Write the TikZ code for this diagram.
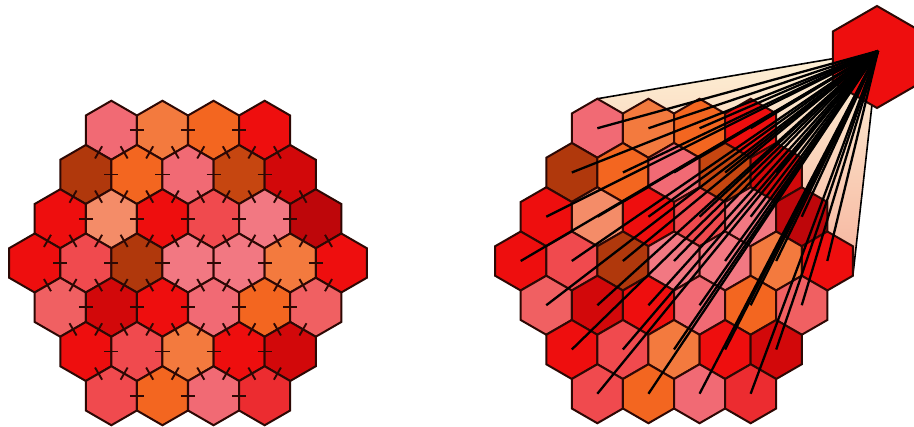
\documentclass[tikz,border=0pt]{standalone}
\usepackage{xcolor}
\usetikzlibrary{calc}

\definecolor{hexline}{RGB}{45,8,4}
\definecolor{hpink}{RGB}{241,106,116}
\definecolor{hpinkl}{RGB}{242,120,130}
\definecolor{horange}{RGB}{243,122,62}
\definecolor{horanged}{RGB}{243,102,32}
\definecolor{hred}{RGB}{238,14,14}
\definecolor{hbrown}{RGB}{176,56,12}
\definecolor{hbrowno}{RGB}{198,70,16}
\definecolor{hdark}{RGB}{210,8,10}
\definecolor{hdarker}{RGB}{190,6,10}
\definecolor{hpeach}{RGB}{244,140,104}
\definecolor{hsalmon}{RGB}{240,74,78}
\definecolor{hsalmonl}{RGB}{240,96,98}
\definecolor{hscarlet}{RGB}{236,44,48}
\definecolor{fancream}{RGB}{253,242,215}
\definecolor{fanpeach}{RGB}{246,178,156}

% colours of the 37 cells, row by row, left to right
\def\cellrows{0/{hpink,horange,horanged,hred},
  1/{hbrown,horanged,hpink,hbrowno,hdark},
  2/{hred,hpeach,hred,hsalmon,hpinkl,hdarker},
  3/{hred,hsalmon,hbrown,hpinkl,hpinkl,horange,hred},
  4/{hsalmonl,hdark,hred,hpink,horanged,hsalmonl},
  5/{hred,hsalmon,horange,hred,hdark},
  6/{hsalmon,horanged,hpink,hscarlet}}

\begin{document}
\begin{tikzpicture}[x=1pt,y=-1pt,
    hexcell/.style={draw=hexline,line width=2pt,line join=miter},
    tickmark/.style={hexline,line width=1.9pt,shorten <=18.5pt,shorten >=18.5pt},
    wire/.style={black,line width=2.3pt}]
  \def\hexr{29.5}
  \def\w{51.1}
  \useasboundingbox (0,0) rectangle (914,427);

  % fan behind the right grid
  \coordinate (grid) at (674,261);
  \coordinate (tip) at (878,51);
  \path (grid) ++(-1.5*\w,-5.5*\hexr) coordinate (fantop);
  \path (grid) ++(3.5*\w,0.5*\hexr) coordinate (fanright);
  \shade[top color=fancream,bottom color=fanpeach]
    (tip) -- (fantop) -- (grid) -- (fanright) -- cycle;
  \draw[black,line width=1.6pt] (fantop) -- (tip) -- (fanright);

  % the two hexagonal grids
  \foreach \g/\cx/\cy in {lt/188/263,rt/674/261}{
    \foreach \i/\row in \cellrows{
      \pgfmathtruncatemacro\qs{max(0,3-\i)}
      \foreach \col [count=\k from 0] in \row{
        \pgfmathtruncatemacro\q{\qs+\k}
        \pgfmathsetmacro\x{\cx+\w*(\q-3+(\i-3)/2)}
        \pgfmathsetmacro\y{\cy+1.5*\hexr*(\i-3)}
        \coordinate (\g-\q-\i) at (\x,\y);
        \draw[hexcell,fill=\col,shift={(\x,\y)}] (90:\hexr) -- (150:\hexr)
          -- (210:\hexr) -- (270:\hexr) -- (330:\hexr) -- (30:\hexr) -- cycle;
      }
    }
  }

  % links between neighbouring cells (left grid)
  \foreach \i/\row in \cellrows{
    \pgfmathtruncatemacro\qs{max(0,3-\i)}
    \foreach \col [count=\k from 0] in \row{
      \pgfmathtruncatemacro\q{\qs+\k}
      \foreach \dq/\di in {1/0,0/1,-1/1}{
        \pgfmathtruncatemacro\nq{\q+\dq}
        \pgfmathtruncatemacro\ni{\i+\di}
        \pgfmathtruncatemacro\ok{(\nq>=0)*(\nq<=6)*(\ni<=6)*(\nq+\ni>=3)*(\nq+\ni<=9)}
        \ifnum\ok=1
          \draw[tickmark] (lt-\q-\i) -- (lt-\nq-\ni);
        \fi
      }
    }
  }

  % input cell and its wires to every cell of the right grid
  \draw[hexcell,fill=hred,shift={(877,57)}] (90:51) -- (150:51) -- (210:51)
    -- (270:51) -- (330:51) -- (30:51) -- cycle;
  \foreach \i/\row in \cellrows{
    \pgfmathtruncatemacro\qs{max(0,3-\i)}
    \foreach \col [count=\k from 0] in \row{
      \pgfmathtruncatemacro\q{\qs+\k}
      \draw[wire] (rt-\q-\i) -- (tip);
    }
  }
\end{tikzpicture}
\end{document}
